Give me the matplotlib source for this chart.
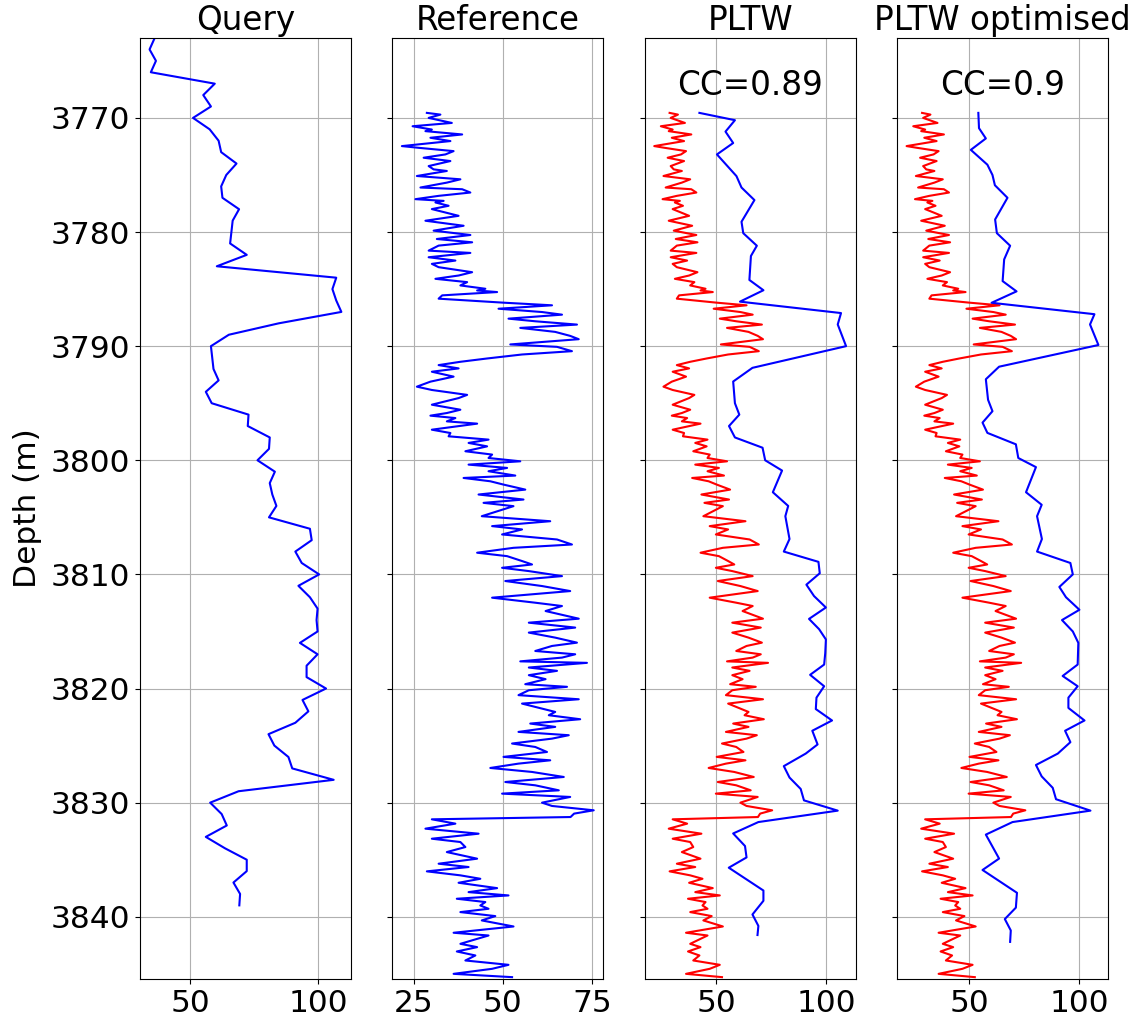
import numpy as np
import matplotlib
matplotlib.use('Agg')
import matplotlib.pyplot as plt

# Query log, 1 m sampling
query_depth = np.arange(3763, 3840)
query_gr = [36, 34, 36.5, 34.5, 59.5, 55, 58, 51, 57.5, 61,
            62, 68, 64, 62, 62.5, 69, 66.5, 66, 65.5, 72,
            60.3, 107, 105.5, 107, 109, 84.5, 65, 58, 58.5, 59,
            61, 56, 58.3, 72.7, 72.4, 81, 80.7, 76.2, 83, 81,
            82, 83.6, 80.7, 96.7, 97.4, 91, 93.5, 100.3, 92.2, 96.7,
            99.7, 99.3, 99.7, 92.8, 99.7, 95.4, 95.4, 103, 93.8, 96.1,
            91, 80.5, 82.8, 88.3, 89.8, 106, 68.8, 57.7, 62.2, 64.2,
            56, 63.5, 72, 72, 66.8, 69.4, 69.1]

# Reference log
ref_depth = [3769.56, 3769.71, 3770.00, 3770.44, 3770.73, 3771.02, 3771.16, 3771.45, 3771.74, 3772.03,
             3772.47, 3772.62, 3772.91, 3773.20, 3773.49, 3773.78, 3774.22, 3774.51, 3774.65, 3775.09,
             3775.38, 3775.67, 3776.10, 3776.25, 3776.54, 3776.83, 3777.12, 3777.27, 3777.41, 3777.70,
             3777.99, 3778.58, 3779.01, 3779.45, 3779.88, 3780.26, 3780.61, 3780.90, 3781.19, 3781.63,
             3781.83, 3782.21, 3782.50, 3782.79, 3783.08, 3783.52, 3783.81, 3784.10, 3784.39, 3784.68,
             3784.97, 3785.12, 3785.26, 3785.55, 3785.84, 3786.19, 3786.42, 3786.72, 3787.01, 3787.24,
             3787.59, 3787.82, 3788.11, 3788.40, 3788.75, 3789.10, 3789.39, 3789.85, 3790.06, 3790.44,
             3790.73, 3791.08, 3791.37, 3791.66, 3791.95, 3792.24, 3792.67, 3793.11, 3793.55, 3793.84,
             3794.27, 3794.55, 3795.13, 3795.57, 3795.86, 3796.09, 3796.30, 3796.59, 3796.79, 3797.32,
             3797.61, 3797.90, 3798.19, 3798.48, 3798.78, 3799.21, 3799.50, 3799.80, 3800.09, 3800.38,
             3800.67, 3800.96, 3801.34, 3801.55, 3801.84, 3802.13, 3802.57, 3803.00, 3803.44, 3803.73,
             3804.02, 3804.90, 3805.34, 3805.77, 3806.06, 3806.50, 3806.94, 3807.38, 3807.67, 3808.10,
             3808.40, 3808.83, 3809.13, 3809.42, 3809.71, 3810.15, 3810.58, 3811.02, 3811.46, 3812.04,
             3812.48, 3812.77, 3813.21, 3813.88, 3814.23, 3814.66, 3815.10, 3815.54, 3815.98, 3816.27,
             3816.71, 3817.00, 3817.29, 3817.62, 3817.75, 3818.16, 3818.45, 3818.83, 3819.18, 3819.62,
             3819.85, 3820.15, 3820.58, 3820.94, 3821.32, 3821.61, 3822.05, 3822.34, 3822.69, 3823.07,
             3823.36, 3823.80, 3824.09, 3824.39, 3824.82, 3825.12, 3825.56, 3825.99, 3826.29, 3826.58,
             3826.96, 3827.31, 3827.75, 3828.19, 3828.48, 3828.92, 3829.21, 3829.50, 3830.00, 3830.29,
             3830.67, 3830.96, 3831.26, 3831.46, 3831.84, 3832.28, 3832.72, 3833.16, 3833.45, 3833.89,
             3834.33, 3834.91, 3835.35, 3835.64, 3836.02, 3836.37, 3836.67, 3837.02, 3837.49, 3837.84,
             3838.13, 3838.42, 3838.71, 3839.01, 3839.30, 3839.59, 3839.94, 3840.32, 3840.85, 3841.40,
             3841.64, 3842.37, 3842.66, 3843.04, 3843.39, 3843.83, 3844.21, 3844.56, 3845.00, 3845.29]
ref_gr = [28.7, 32.5, 29.2, 35.7, 24.7, 30.1, 28.3, 38.6, 29.7, 35.3,
          21.7, 26.4, 36.2, 33.9, 27.8, 35.3, 29.2, 30.6, 34.3, 25.9,
          38.1, 34.3, 26.9, 38.6, 40.9, 32.0, 25.5, 33.4, 31.1, 34.8,
          30.1, 37.6, 28.3, 39.0, 30.6, 40.9, 31.5, 41.4, 32.0, 29.2,
          40.9, 29.2, 36.7, 30.1, 32.0, 41.4, 37.6, 31.1, 40.0, 38.1,
          45.1, 42.8, 48.4, 33.0, 32.0, 50.2, 63.8, 48.8, 61.0, 66.6,
          51.6, 59.1, 70.8, 54.9, 64.7, 68.9, 71.3, 52.1, 65.2, 69.4,
          55.4, 45.6, 38.1, 32.0, 37.6, 30.1, 36.2, 29.7, 25.9, 30.1,
          40.0, 37.6, 30.1, 38.1, 34.3, 29.7, 36.7, 34.3, 42.8, 30.1,
          35.3, 34.8, 46.0, 40.4, 45.6, 39.5, 47.0, 46.0, 54.9, 40.4,
          51.2, 46.0, 53.5, 39.0, 46.5, 50.2, 56.3, 43.2, 55.8, 44.6,
          53.0, 44.1, 63.3, 47.0, 55.4, 49.8, 65.2, 69.4, 53.0, 42.8,
          51.2, 55.4, 58.2, 49.8, 57.3, 66.6, 50.7, 61.0, 68.9, 47.0,
          59.1, 66.6, 62.0, 71.3, 57.3, 70.3, 57.3, 64.7, 70.8, 63.8,
          59.1, 70.3, 66.6, 54.9, 73.6, 57.3, 65.2, 57.3, 62.0, 56.3,
          68.0, 57.3, 54.4, 71.3, 55.4, 59.1, 64.7, 62.9, 71.7, 57.7,
          64.7, 54.4, 68.5, 63.8, 52.6, 59.1, 62.4, 50.2, 63.3, 54.4,
          46.5, 58.2, 67.1, 50.7, 59.1, 65.7, 49.8, 68.9, 61.0, 63.8,
          75.5, 70.0, 69.0, 30.1, 36.7, 28.3, 43.2, 30.1, 38.1, 39.5,
          34.3, 42.8, 32.0, 40.4, 28.7, 38.1, 43.7, 37.6, 48.4, 40.4,
          51.6, 37.1, 45.1, 43.7, 46.0, 38.1, 47.9, 44.1, 53.0, 36.2,
          46.0, 38.1, 42.8, 37.1, 42.3, 39.5, 51.6, 47.0, 36.2, 52.6]

# Query warped onto reference depths (PLTW)
pltw_depth = [3769.56, 3770.2, 3771.2, 3772.2, 3773.2, 3775.1, 3776.1, 3777.2, 3779.1, 3780.1,
              3781.2, 3782.1, 3784.2, 3785.1, 3786.1, 3787.1, 3788.1, 3790.0, 3791.9, 3793.1,
              3795.0, 3796.0, 3797.0, 3798.0, 3798.9, 3800.0, 3800.9, 3802.8, 3804.0, 3804.9,
              3806.9, 3808.0, 3808.9, 3809.9, 3810.9, 3811.9, 3812.9, 3813.9, 3814.8, 3815.7,
              3816.9, 3817.9, 3818.8, 3819.8, 3820.8, 3821.8, 3822.8, 3823.7, 3824.9, 3825.7,
              3826.8, 3827.8, 3828.8, 3829.8, 3830.7, 3831.7, 3832.7, 3833.8, 3834.8, 3835.7,
              3837.7, 3838.6, 3839.8, 3840.8, 3841.6]
pltw_gr = [42.3, 58.5, 54.2, 57.7, 50.3, 59.2, 61.5, 67.4, 61.5, 62.3,
           68.5, 65.8, 65.1, 71.5, 60.8, 106.9, 105.4, 109.2, 66.5, 57.7,
           58.5, 60.5, 55.8, 58.5, 71.1, 72.3, 80.0, 75.8, 82.8, 81.5,
           83.4, 80.8, 96.6, 97.2, 91.1, 94.6, 100.0, 92.3, 96.9, 100.0,
           99.7, 99.2, 92.8, 99.2, 95.7, 95.4, 102.8, 93.8, 96.2, 90.8,
           80.8, 83.4, 88.5, 90.0, 105.4, 69.2, 57.7, 63.1, 63.8, 55.7,
           71.5, 71.5, 66.5, 69.2, 68.8]

# Query warped with optimised PLTW
opt_depth = [3769.56, 3770.9, 3771.8, 3772.8, 3774.1, 3775.0, 3775.9, 3777.0, 3778.9, 3780.1,
             3781.2, 3782.4, 3784.3, 3785.2, 3786.2, 3787.2, 3788.1, 3789.9, 3791.8, 3792.9,
             3794.7, 3795.7, 3796.7, 3797.6, 3798.6, 3799.8, 3800.6, 3802.8, 3803.9, 3804.9,
             3806.9, 3808.0, 3809.0, 3810.0, 3811.1, 3812.0, 3813.1, 3814.0, 3815.0, 3816.0,
             3817.9, 3818.9, 3819.8, 3820.8, 3821.7, 3822.8, 3823.7, 3824.7, 3825.7, 3826.7,
             3827.7, 3828.7, 3829.7, 3830.7, 3831.7, 3832.8, 3834.9, 3835.9, 3837.9, 3839.2,
             3840.2, 3841.2, 3842.2]
opt_gr = [54.2, 54.5, 57.6, 50.8, 58.3, 60.6, 61.7, 67.4, 61.8, 62.6,
          68.6, 65.9, 65.2, 71.5, 60.2, 106.8, 104.8, 108.6, 63.6, 57.6,
          58.6, 60.6, 56.1, 58.3, 71.2, 72.3, 80.3, 75.8, 82.9, 80.8,
          83.0, 80.8, 95.9, 97.0, 90.9, 93.9, 100.0, 92.1, 97.0, 99.5,
          99.2, 92.4, 99.2, 95.0, 95.0, 102.3, 93.5, 95.9, 90.2, 80.3,
          82.9, 87.9, 89.4, 105.0, 69.7, 57.6, 63.6, 56.1, 71.7, 71.2,
          66.2, 68.9, 68.6]

cc_pltw = 0.89
cc_opt = 0.9

fig, axes = plt.subplots(1, 4, figsize=(11.37, 10.22), dpi=100, sharey=True)
fig.subplots_adjust(left=0.1231, right=0.9745, top=0.9628, bottom=0.0421, wspace=0.196)

axes[0].plot(query_gr, query_depth, color='b', lw=1.5)
axes[0].set_title('Query', fontsize=23.5)
axes[0].set_xticks([50, 100])

axes[1].plot(ref_gr, ref_depth, color='b', lw=1.5)
axes[1].set_title('Reference', fontsize=23.5)
axes[1].set_xticks([25, 50, 75])

# warped curves on top of the reference
axes[2].plot(ref_gr, ref_depth, color='r', lw=1.5)
axes[2].plot(pltw_gr, pltw_depth, color='b', lw=1.5)
axes[2].set_title('PLTW', fontsize=23.5)
axes[2].text(0.5, 0.95, f'CC={cc_pltw}', transform=axes[2].transAxes,
             ha='center', va='center', fontsize=23.5)
axes[2].set_xticks([50, 100])

axes[3].plot(ref_gr, ref_depth, color='r', lw=1.5)
axes[3].plot(opt_gr, opt_depth, color='b', lw=1.5)
axes[3].set_title('PLTW optimised', fontsize=23.5)
axes[3].text(0.5, 0.95, f'CC={cc_opt}', transform=axes[3].transAxes,
             ha='center', va='center', fontsize=23.5)
axes[3].set_xticks([50, 100])

axes[0].set_ylim(3845.45, 3763)
axes[0].set_yticks([3770, 3780, 3790, 3800, 3810, 3820, 3830, 3840])
axes[0].set_ylabel('Depth (m)', fontsize=22.5, labelpad=6)

for ax in axes:
    ax.grid(True)
    ax.tick_params(labelsize=22.5)

plt.savefig('out.png')
